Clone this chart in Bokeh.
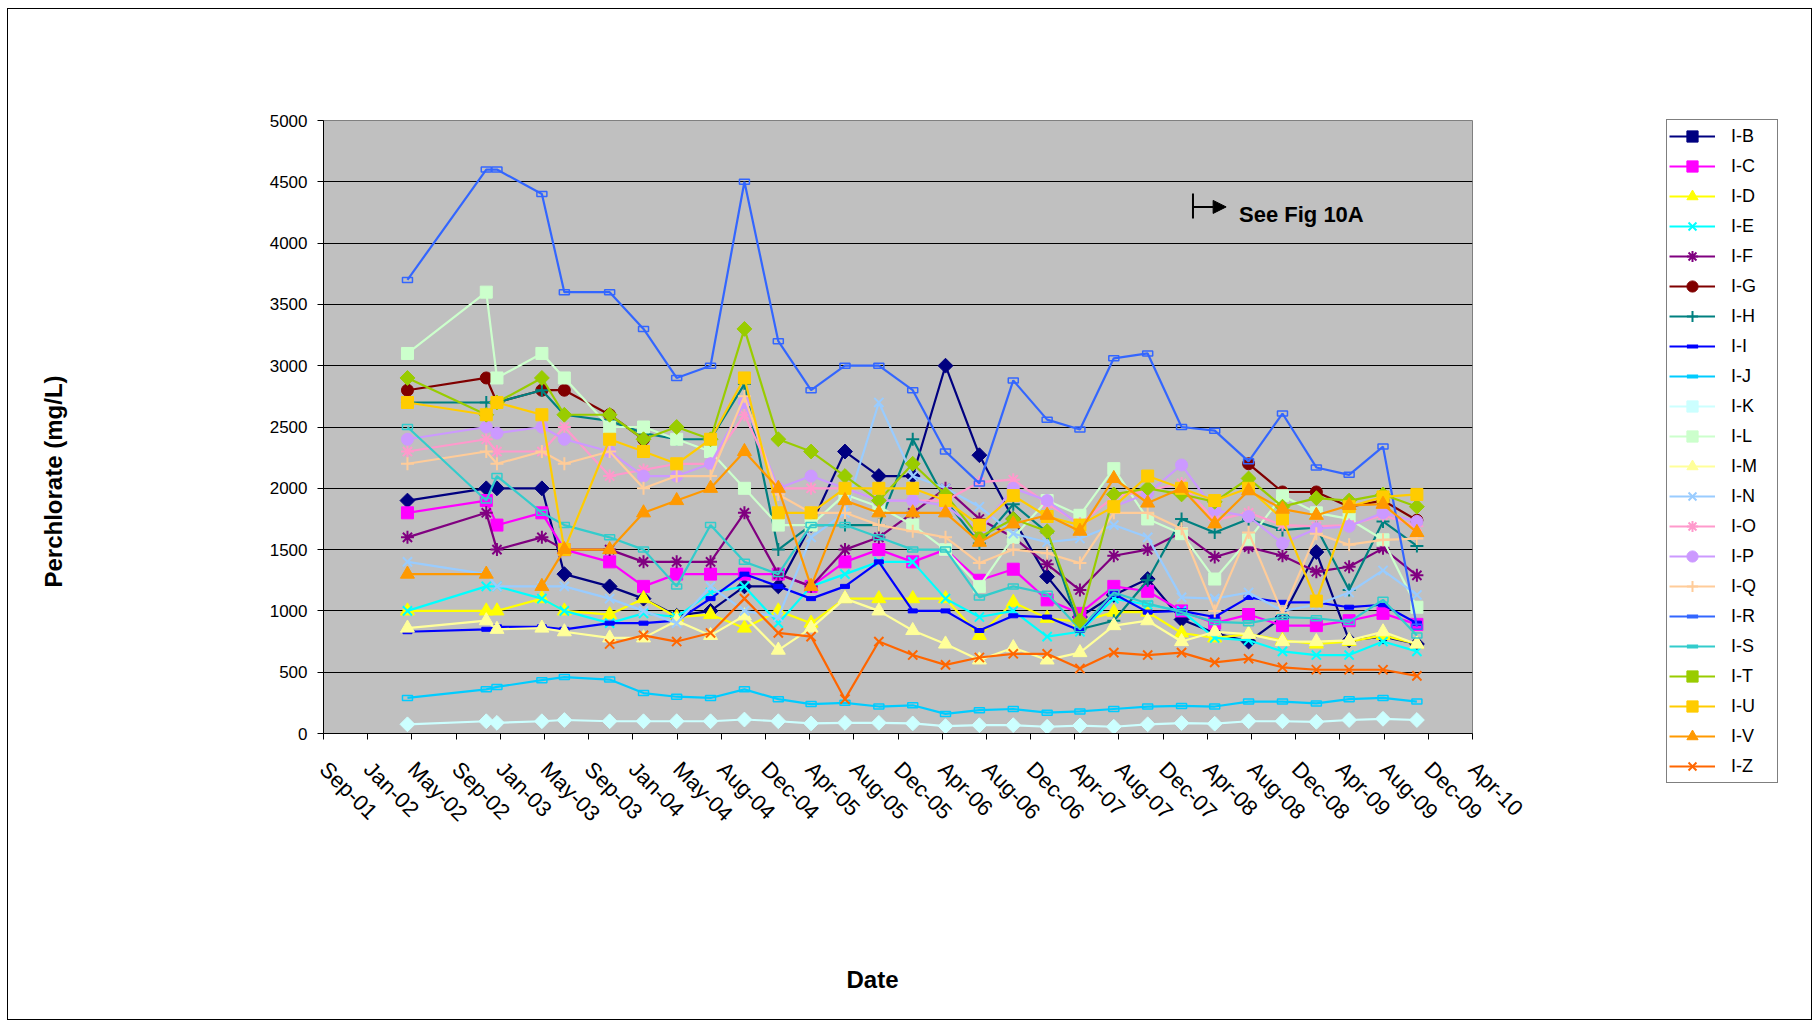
import math
import numpy as np
import pandas as pd
from bokeh.plotting import figure
from bokeh.layouts import row
from bokeh.models import (Range1d, FixedTicker, Legend, LegendItem, Label, Arrow, NormalHead, Title)
from bokeh.embed import file_html
from bokeh.resources import INLINE

NA = float("nan")

# ---------------- data ----------------
sample_dates = ["2002-05-01", "2002-12-01", "2002-12-30", "2003-05-01", "2003-07-01", "2003-11-01",
                "2004-02-01", "2004-05-01", "2004-08-01", "2004-11-01", "2005-02-01", "2005-05-01",
                "2005-08-01", "2005-11-01", "2006-02-01", "2006-05-01", "2006-08-01", "2006-11-01",
                "2007-02-01", "2007-05-01", "2007-08-01", "2007-11-01", "2008-02-01", "2008-05-01",
                "2008-08-01", "2008-11-01", "2009-02-01", "2009-05-01", "2009-08-01", "2009-11-01"]

axis_start = "2001-09-15"
tick_step_days = 120
tick_labels = ["Sep-01", "Jan-02", "May-02", "Sep-02", "Jan-03", "May-03", "Sep-03", "Jan-04", "May-04",
               "Aug-04", "Dec-04", "Apr-05", "Aug-05", "Dec-05", "Apr-06", "Aug-06", "Dec-06", "Apr-07",
               "Aug-07", "Dec-07", "Apr-08", "Aug-08", "Dec-08", "Apr-09", "Aug-09", "Dec-09", "Apr-10"]

I_B = [1900, 2000, 2000, 2000, 1300, 1200, 1100, 960, 1000, 1200, 1200, 1700, 2300, 2100, 2100, 3000, 2270, 1750, 1280, 950, 1130, 1260, 930, 820, 750, 950, 1480, 760, 790, 730]
I_C = [1800, 1900, 1700, 1800, 1500, 1400, 1200, 1300, 1300, 1300, 1300, 1200, 1400, 1500, 1400, 1500, 1250, 1340, 1090, 980, 1200, 1160, 1000, 900, 970, 880, 880, 920, 980, 890]
I_D = [1000, 1000, 1000, 1100, 1000, 970, 1100, 950, 970, 860, 1000, 900, 1100, 1100, 1100, 1100, 800, 1070, 940, 910, 990, 990, 820, 780, 810, 760, 730, 750, 800, 730]
I_E = [1000, 1200, 1200, 1100, 1000, 900, 980, 950, 1150, 1200, 900, 1200, 1300, 1400, 1400, 1100, 950, 1000, 790, 830, 1100, 1050, 1000, 780, 760, 670, 640, 640, 750, 670]
I_F = [1600, 1800, 1500, 1600, 1500, 1500, 1400, 1400, 1400, 1800, 1300, 1200, 1500, 1600, 1800, 2000, 1750, 1600, 1380, 1170, 1450, 1500, 1640, 1440, 1520, 1450, 1320, 1360, 1510, 1290]
I_G = [2800, 2900, 2700, 2800, 2800, 2600, 2400, NA, NA, NA, NA, NA, NA, NA, NA, NA, NA, NA, NA, NA, NA, NA, NA, NA, 2200, 1970, 1970, 1850, 1900, 1740]
I_H = [2700, 2700, 2700, 2800, 2600, 2550, 2450, 2400, 2400, 2850, 1500, 1700, 1700, 1700, 2400, 1900, 1550, 1870, 1640, 850, 920, 1250, 1750, 1640, 1750, 1660, 1680, 1170, 1730, 1530]
I_I = [830, 850, 870, 870, 850, 900, 900, 920, 1100, 1300, 1200, 1100, 1200, 1400, 1000, 1000, 840, 960, 950, 840, 1140, 990, 1000, 950, 1110, 1070, 1070, 1030, 1050, 900]
I_J = [290, 360, 380, 435, 460, 440, 330, 300, 290, 360, 280, 240, 250, 220, 230, 160, 190, 200, 170, 180, 200, 220, 225, 220, 260, 260, 245, 280, 290, 260]
I_K = [75, 100, 87, 100, 110, 100, 100, 100, 100, 114, 100, 82, 87, 87, 82, 60, 68, 68, 55, 65, 55, 75, 85, 80, 100, 100, 95, 110, 120, 110]
I_L = [3100, 3600, 2900, 3100, 2900, 2500, 2500, 2400, 2300, 2000, 1700, 1700, 1950, 1850, 1700, 1500, 1200, 1600, 1900, 1780, 2160, 1750, 1630, 1260, 1580, 1940, 1800, 1750, 1580, 1030]
I_M = [860, 920, 850, 860, 830, 780, 780, 920, 800, 960, 680, 860, 1100, 1000, 840, 730, 600, 700, 600, 660, 880, 920, 750, 830, 810, 750, 750, 760, 830, 730]
I_N = [1400, 1300, 1200, 1200, 1200, 1100, 1000, 900, 1200, 1000, 950, 1600, 1800, 2700, 2100, 2000, 1850, 1630, 1560, 1590, 1700, 1600, 1110, 1100, 1150, 1000, 1050, 1150, 1330, 1130]
I_O = [2300, 2400, 2300, 2300, 2500, 2100, 2150, 2200, 2200, 2600, 2000, 2000, 2000, 1900, 1900, 1900, 2050, 2070, 1875, 1710, 1930, 1980, 2040, 1740, 1800, 1700, 1690, 1700, 1780, 1690]
I_P = [2400, 2500, 2450, 2500, 2400, 2300, 2100, 2100, 2200, 2700, 2000, 2100, 2000, 1900, 1900, 1860, 1650, 2000, 1900, 1700, 1850, 1960, 2190, 1820, 1770, 1550, 1670, 1690, 1800, 1730]
I_Q = [2200, 2300, 2200, 2300, 2200, 2300, 2000, 2100, 2100, 2750, 1950, 1800, 1800, 1700, 1650, 1600, 1390, 1500, 1470, 1390, 1800, 1800, 1670, 1000, 1640, 980, 1630, 1540, 1580, 1590]
I_R = [3700, 4600, 4600, 4400, 3600, 3600, 3300, 2900, 3000, 4500, 3200, 2800, 3000, 3000, 2800, 2300, 2040, 2880, 2560, 2480, 3060, 3100, 2500, 2470, 2220, 2610, 2170, 2110, 2340, 870]
I_S = [2500, 1900, 2100, 1800, 1700, 1600, 1500, 1200, 1700, 1400, 1300, 1700, 1700, 1600, 1500, 1500, 1110, 1200, 1140, 850, 1150, 1060, 990, 910, 900, 950, 940, 910, 1090, 800]
I_T = [2900, 2600, 2700, 2900, 2600, 2600, 2400, 2500, 2400, 3300, 2400, 2300, 2100, 1900, 2200, 1950, 1600, 1750, 1650, 920, 1950, 2000, 1950, 1890, 2080, 1850, 1920, 1900, 1950, 1850]
I_U = [2700, 2600, 2700, 2600, 1500, 2400, 2300, 2200, 2400, 2900, 1800, 1800, 2000, 2000, 2000, 1900, 1700, 1940, 1770, 1700, 1850, 2100, 2000, 1900, 2000, 1750, 1080, 1850, 1930, 1950]
I_V = [1300, 1300, NA, 1200, 1500, 1500, 1800, 1900, 2000, 2300, 2000, 1200, 1900, 1800, 1800, 1800, 1560, 1710, 1780, 1650, 2080, 1880, 2000, 1710, 1980, 1830, 1780, 1860, 1870, 1640]
I_Z = [NA, NA, NA, NA, NA, 730, 800, 750, 820, 1100, 820, 790, 280, 750, 640, 560, 620, 650, 650, 530, 660, 640, 660, 580, 610, 540, 520, 520, 520, 470]

series_names = ["I-B", "I-C", "I-D", "I-E", "I-F", "I-G", "I-H", "I-I", "I-J", "I-K", "I-L",
                "I-M", "I-N", "I-O", "I-P", "I-Q", "I-R", "I-S", "I-T", "I-U", "I-V", "I-Z"]
series_values = [I_B, I_C, I_D, I_E, I_F, I_G, I_H, I_I, I_J, I_K, I_L,
                 I_M, I_N, I_O, I_P, I_Q, I_R, I_S, I_T, I_U, I_V, I_Z]

# ---------------- styles ----------------
colors = ["#000080", "#FF00FF", "#FFFF00", "#00FFFF", "#800080", "#800000", "#008080", "#0000FF",
          "#00CCFF", "#CCFFFF", "#CCFFCC", "#FFFF99", "#99CCFF", "#FF99CC", "#CC99FF", "#FFCC99",
          "#3366FF", "#33CCCC", "#99CC00", "#FFCC00", "#FF9900", "#FF6600"]
markers = ["diamond", "square", "triangle", "x", "asterisk", "circle", "cross", "dash_filled",
           "dash_hollow", "diamond", "square", "triangle", "x", "asterisk", "circle", "cross",
           "dash_hollow", "dash_hollow", "diamond", "square", "triangle", "x"]

FONT = "Liberation Sans"
base = pd.Timestamp(axis_start)
xs = np.array([(pd.Timestamp(d) - base).days for d in sample_dates], dtype=float)
n_ticks = len(tick_labels)
tick_vals = [i * tick_step_days for i in range(n_ticks)]

# page geometry: canvas origin at page (8, 9) (row margin + 1px border)
OX, OY = 8, 9
FRAME_L, FRAME_T, FRAME_W, FRAME_H = 323, 120, 1149, 613
H = 1010
LEG_MARGIN = 4
LEG_BOX_X, LEG_BOX_Y = 1666, 119   # page position of the legend box
LEG_FRAME_X = LEG_BOX_X - LEG_MARGIN
W = LEG_FRAME_X - OX        # main figure width

p = figure(width=W, height=H, output_backend="svg", toolbar_location=None,
           x_range=Range1d(0, tick_vals[-1]), y_range=Range1d(0, 5000),
           min_border_left=FRAME_L - OX, min_border_right=W - (FRAME_L - OX) - FRAME_W,
           min_border_top=FRAME_T - OY, min_border_bottom=H - (FRAME_T - OY) - FRAME_H,
           background_fill_color="#C0C0C0", border_fill_color="white")
p.frame_align = False
p.outline_line_color = "#808080"
p.outline_line_width = 1

p.xgrid.visible = False
p.ygrid.grid_line_color = "#000000"
p.ygrid.grid_line_width = 1
p.yaxis.ticker = FixedTicker(ticks=list(range(0, 5001, 500)))
p.xaxis.ticker = FixedTicker(ticks=tick_vals)
p.xaxis.major_label_overrides = {v: lab for v, lab in zip(tick_vals, tick_labels)}
p.xaxis.major_label_orientation = -math.pi / 4

for ax in (p.xaxis, p.yaxis):
    ax.axis_line_color = "#000000"
    ax.axis_line_width = 1
    ax.major_tick_line_color = "#000000"
    ax.major_tick_in = 0
    ax.major_tick_out = 6
    ax.minor_tick_line_color = None
    ax.major_label_text_font = FONT
    ax.major_label_text_color = "#000000"
p.yaxis.major_label_text_font_size = "17px"
p.xaxis.major_label_text_font_size = "22px"
p.yaxis.major_label_standoff = 10
p.xaxis.major_label_standoff = 26

# legend panel (separate small canvas to the right of the chart; its ranges hide the data)
LEG_FRAME_W, LEG_FRAME_H = 110 + 2 * LEG_MARGIN + 2, 662 + 2 * LEG_MARGIN + 2
LEG_W = 1811 - LEG_FRAME_X
LEG_TOP = LEG_BOX_Y - LEG_MARGIN - OY
pl = figure(width=LEG_W, height=H, output_backend="svg", toolbar_location=None,
            x_range=Range1d(-2, -1), y_range=Range1d(-2, -1),
            x_axis_location=None, y_axis_location=None,
            min_border_left=0, min_border_right=LEG_W - LEG_FRAME_W,
            min_border_top=LEG_TOP, min_border_bottom=H - LEG_TOP - LEG_FRAME_H,
            background_fill_color="white", border_fill_color="white")
pl.frame_align = False
pl.outline_line_color = None
pl.grid.visible = False

items = []
for name, vals, col, mk in zip(series_names, series_values, colors, markers):
    ys = np.array(vals, dtype=float)
    p.line(xs, ys, line_color=col, line_width=2.2)
    lg_line = pl.line(xs, ys, line_color=col, line_width=2.2)
    if mk == "diamond":
        p.scatter(xs, ys, marker="square", angle=math.pi / 4, size=10.5, fill_color=col, line_color=col)
        lg_m = pl.scatter(xs, ys, marker="square", angle=math.pi / 4, size=10.5, fill_color=col, line_color=col)
    elif mk in ("square", "circle"):
        p.scatter(xs, ys, marker=mk, size=12, fill_color=col, line_color=col)
        lg_m = pl.scatter(xs, ys, marker=mk, size=12, fill_color=col, line_color=col)
    elif mk == "triangle":
        p.scatter(xs, ys, marker="triangle", size=14, fill_color=col, line_color=col)
        lg_m = pl.scatter(xs, ys, marker="triangle", size=14, fill_color=col, line_color=col)
    elif mk in ("x", "asterisk", "cross"):
        p.scatter(xs, ys, marker=mk, size=13, fill_color=None, line_color=col, line_width=2)
        lg_m = pl.scatter(xs, ys, marker=mk, size=13, fill_color=None, line_color=col, line_width=2)
    else:
        if mk == "dash_filled":
            p.rect(xs, ys, width=9, height=4, width_units="screen", height_units="screen",
                   fill_color=col, line_color=col)
        else:
            p.rect(xs, ys, width=10, height=5, width_units="screen", height_units="screen",
                   fill_color=None, line_color=col, line_width=1.5)
        lg_m = pl.scatter(xs, ys, marker="dash", size=11, line_color=col, line_width=4)
    items.append(LegendItem(label=name, renderers=[lg_line, lg_m]))

legend = Legend(items=items, location="top_left", orientation="vertical", margin=LEG_MARGIN,
                label_text_font=FONT, label_text_font_size="18px", label_text_color="#000000",
                glyph_width=46, glyph_height=28, label_height=28, label_width=44,
                label_standoff=16, spacing=2, padding=2,
                border_line_color="#000000", border_line_width=1,
                background_fill_color="white", background_fill_alpha=1.0)
pl.add_layout(legend)

# axis titles (invisible spacer titles push them to their place)
p.add_layout(Title(text=".", text_font_size="2px", text_color="white", standoff=122), "below")
p.add_layout(Title(text="Date", align="left", offset=523, standoff=0, text_font=FONT,
                   text_font_size="24px", text_font_style="bold", text_color="#000000"), "below")
p.add_layout(Title(text=".", text_font_size="2px", text_color="white", standoff=197), "left")
p.add_layout(Title(text="Perchlorate (mg/L)", align="left", offset=146, standoff=0, text_font=FONT,
                   text_font_size="24px", text_font_style="bold", text_color="#000000"), "left")

# annotation
p.segment(x0=[2361], y0=[4200], x1=[2361], y1=[4405], line_color="black", line_width=2)
p.add_layout(Arrow(end=NormalHead(size=13, fill_color="black", line_color="black"),
                   x_start=2361, y_start=4295, x_end=2451, y_end=4295,
                   line_color="black", line_width=2))
p.add_layout(Label(x=2486, y=4233, text="See Fig 10A", text_font=FONT, text_font_size="22px",
                   text_font_style="bold", text_color="#000000",
                   text_align="left", text_baseline="middle"))

layout = row(p, pl, spacing=0,
             styles={"border": "1px solid #000000", "margin-left": "7px", "margin-top": "8px",
                     "width": "fit-content"})
open("out.html", "w").write(file_html(layout, INLINE))
